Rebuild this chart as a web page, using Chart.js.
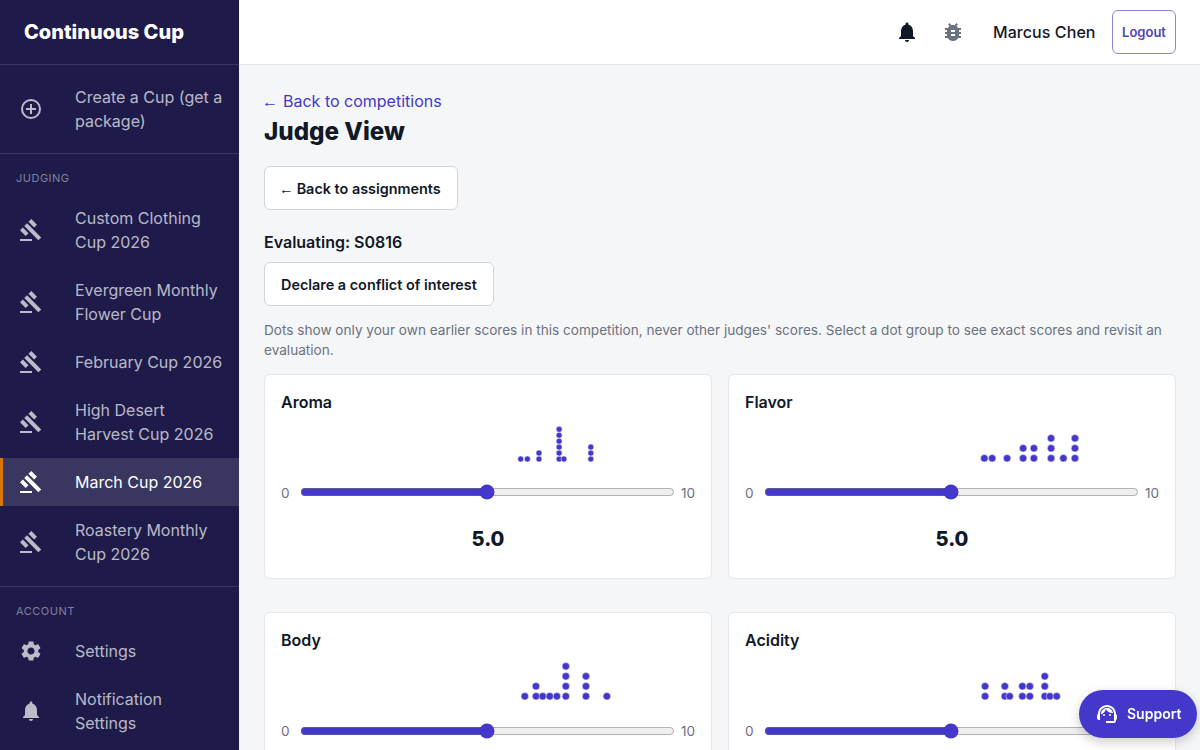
<!DOCTYPE html>
<html>
<head>
<meta charset="utf-8">
<title>Judge View</title>
<script src="https://cdn.jsdelivr.net/npm/chart.js@4"></script>
<style>
  * { box-sizing: border-box; }
  html, body { margin: 0; height: 100%; overflow: hidden; }
  body { font-family: Inter, "Noto Sans", sans-serif; background: #f5f6f8; color: #111827; width: 1200px; height: 750px; position: relative; }
  svg { display: block; fill: currentColor; }

  .sidebar { position: absolute; left: 0; top: 0; width: 239px; height: 750px; background: #1e1b4b; overflow: hidden; color: rgba(255,255,255,.7); font-size: 16px; line-height: 24px; }
  .brand { height: 65px; border-bottom: 1px solid rgba(255,255,255,.12); padding: 0 24px; font-size: 20px; font-weight: 800; color: #fff; line-height: 64px; }
  .group { padding: 8px 0; border-bottom: 1px solid rgba(255,255,255,.12); }
  .group:last-child { border-bottom: 0; }
  .label { height: 40px; padding: 17px 16px 0; font-size: 11px; line-height: 14px; letter-spacing: .5px; color: rgba(255,255,255,.45); text-transform: uppercase; margin-top: -8px; }
  .item { display: flex; align-items: center; padding: 12px 16px 12px 19px; }
  .item svg { width: 24px; height: 24px; flex: none; margin-right: 32px; }
  .item.active { background: rgba(255,255,255,.12); color: #fff; border-left: 3px solid #d97706; padding-left: 16px; }

  .topbar { position: absolute; left: 239px; right: 0; top: 0; height: 65px; background: #fff; border-bottom: 1px solid #e5e7eb; }
  .topbar svg { position: absolute; top: 20px; width: 24px; height: 24px; }
  .user { position: absolute; left: 754px; top: 20px; font-size: 16px; line-height: 24px; font-weight: 500; letter-spacing: .005em; }
  .logout { position: absolute; left: 873px; top: 10px; width: 64px; height: 44px; border: 1px solid #8f86d3; border-radius: 6px; color: #4f46b5; font-size: 13px; font-weight: 600; line-height: 42px; text-align: center; }

  .main { position: absolute; left: 264px; top: 65px; width: 912px; }
  .back { position: absolute; top: 24px; left: 0; font-size: 16px; line-height: 24px; color: #4338ca; }
  h1 { position: absolute; top: 49px; left: 0; margin: 0; font-size: 24.2px; line-height: 36px; font-weight: 800; }
  .btn { position: absolute; left: 0; height: 44px; background: #fff; border: 1px solid #d1d5db; border-radius: 6px; padding: 0 16px; font-size: 14.4px; line-height: 43px; font-weight: 600; }
  .arrow { display: inline-block; font-family: "Liberation Sans", sans-serif; font-weight: 400; margin-left: -2px; margin-right: 2px; }
  .back .arrow { width: 14.5px; }
  .btn .arrow { width: 12px; }
  .evaluating { position: absolute; top: 165px; left: 0; font-size: 16px; line-height: 24px; font-weight: 600; }
  .note { position: absolute; top: 255px; left: 0; width: 912px; font-size: 13.6px; line-height: 20px; color: #6b7280; }

  .card { position: absolute; width: 448px; height: 205px; background: #fff; border: 1px solid #e5e7eb; border-radius: 6px; }
  .card h3 { position: absolute; left: 16px; top: 15px; margin: 0; font-size: 16px; line-height: 24px; font-weight: 600; }
  .dots { position: absolute; left: 36px; top: 40px; width: 373px; height: 47px; }
  .slider { position: absolute; left: 34.5px; top: 109px; width: 375px; height: 16px; margin: 0; accent-color: #4338ca; }
  .end { position: absolute; top: 108px; font-size: 13.6px; line-height: 20px; color: #6b7280; }
  .lower .slider { top: 110px; }
  .score { position: absolute; left: 0; right: 0; top: 150px; text-align: center; font-size: 20px; line-height: 28px; font-weight: 800; }

  .support { position: absolute; left: 1079px; top: 690px; width: 118px; height: 48px; background: #4338ca; border-radius: 24px; color: #fff; font-size: 14px; font-weight: 600; line-height: 48px; padding-left: 48px; box-shadow: 0 4px 12px rgba(0,0,0,.2); }
  .support svg { position: absolute; left: 16px; top: 12px; width: 24px; height: 24px; }
</style>
</head>
<body>
<svg width="0" height="0" style="position:absolute">
  <defs>
    <symbol id="gavel" viewBox="0 0 24 24"><path d="M1 21h12v2H1v-2zM5.245 8.07l2.83-2.827 14.14 14.142-2.828 2.828L5.245 8.07zM12.317 1l5.657 5.656-2.83 2.83-5.654-5.66L12.317 1zM3.825 9.485l5.657 5.657-2.828 2.828-5.657-5.657 2.828-2.828z"/></symbol>
    <symbol id="bell" viewBox="0 0 24 24"><path d="M12 22c1.1 0 2-.9 2-2h-4c0 1.1.9 2 2 2zm6-6v-5c0-3.07-1.63-5.64-4.5-6.32V4c0-.83-.67-1.5-1.5-1.5s-1.5.67-1.5 1.5v.68C7.64 5.36 6 7.92 6 11v5l-2 2v1h16v-1l-2-2z"/></symbol>
    <symbol id="bug" viewBox="0 0 24 24"><path d="M20 8h-2.81c-.45-.78-1.07-1.45-1.82-1.96L17 4.41 15.59 3l-2.17 2.17C12.96 5.06 12.49 5 12 5c-.49 0-.96.06-1.41.17L8.41 3 7 4.41l1.62 1.63C7.88 6.55 7.26 7.22 6.81 8H4v2h2.09c-.05.33-.09.66-.09 1v1H4v2h2v1c0 .34.04.67.09 1H4v2h2.81c1.04 1.79 2.97 3 5.19 3s4.15-1.21 5.19-3H20v-2h-2.09c.05-.33.09-.66.09-1v-1h2v-2h-2v-1c0-.34-.04-.67-.09-1H20V8zm-6 8h-4v-2h4v2zm0-4h-4v-2h4v2z"/></symbol>
    <symbol id="gear" viewBox="0 0 24 24"><path d="M19.14 12.94c.04-.3.06-.61.06-.94 0-.32-.02-.64-.07-.94l2.03-1.58a.49.49 0 0 0 .12-.61l-1.92-3.32a.488.488 0 0 0-.59-.22l-2.39.96c-.5-.38-1.03-.7-1.62-.94l-.36-2.54a.484.484 0 0 0-.48-.41h-3.84c-.24 0-.43.17-.47.41l-.36 2.54c-.59.24-1.13.57-1.62.94l-2.39-.96c-.22-.08-.47 0-.59.22L2.74 8.87c-.12.21-.08.47.12.61l2.03 1.58c-.05.3-.09.63-.09.94s.02.64.07.94l-2.03 1.58a.49.49 0 0 0-.12.61l1.92 3.32c.12.22.37.29.59.22l2.39-.96c.5.38 1.03.7 1.62.94l.36 2.54c.05.24.24.41.48.41h3.84c.24 0 .44-.17.47-.41l.36-2.54c.59-.24 1.13-.56 1.62-.94l2.39.96c.22.08.47 0 .59-.22l1.92-3.32c.12-.22.07-.47-.12-.61l-2.01-1.58zM12 15.6c-1.98 0-3.6-1.62-3.6-3.6s1.62-3.6 3.6-3.6 3.6 1.62 3.6 3.6-1.62 3.6-3.6 3.6z"/></symbol>
    <symbol id="plus" viewBox="0 0 24 24"><path d="M11 7h2v4h4v2h-4v4h-2v-4H7v-2h4V7zm1-5a10 10 0 1 0 0 20 10 10 0 0 0 0-20zm0 18a8 8 0 1 1 0-16 8 8 0 0 1 0 16z"/></symbol>
    <symbol id="headset" viewBox="0 0 24 24"><path d="M21 12.2C21 6.7 16.7 3 12 3s-9 3.700-9 9.100c-.6.300-1 1-1 1.700V16c0 1.100.9 2 2 2h1v-6.100C5 8 8.100 5 12 5s7 3 7 6.900V19h-8v2h8c1.100 0 2-.9 2-2v-1.200c.6-.3 1-.9 1-1.600v-2.300c0-.7-.4-1.300-1-1.700z"/><circle cx="9" cy="13" r="1"/><circle cx="15" cy="13" r="1"/><path d="M18 11c-.5-2.900-3-5-6-5-3 0-6.300 2.500-6 6.400 2.500-1 4.400-2.800 5-5.400 1.300 2.600 4 4.400 7 4z"/></symbol>
  </defs>
</svg>

<aside class="sidebar">
  <div class="brand">Continuous Cup</div>
  <div class="group">
    <div class="item"><svg><use href="#plus"/></svg><span>Create a Cup (get a package)</span></div>
  </div>
  <div class="group">
    <div class="label" style="margin-top:-8px">Judging</div>
    <div class="item"><svg><use href="#gavel"/></svg><span>Custom Clothing Cup 2026</span></div>
    <div class="item"><svg><use href="#gavel"/></svg><span>Evergreen Monthly Flower Cup</span></div>
    <div class="item"><svg><use href="#gavel"/></svg><span>February Cup 2026</span></div>
    <div class="item"><svg><use href="#gavel"/></svg><span>High Desert Harvest Cup 2026</span></div>
    <div class="item active"><svg><use href="#gavel"/></svg><span>March Cup 2026</span></div>
    <div class="item"><svg><use href="#gavel"/></svg><span>Roastery Monthly Cup 2026</span></div>
  </div>
  <div class="group">
    <div class="label">Account</div>
    <div class="item"><svg><use href="#gear"/></svg><span>Settings</span></div>
    <div class="item"><svg><use href="#bell"/></svg><span>Notification Settings</span></div>
  </div>
</aside>

<header class="topbar">
  <svg style="left:656px;color:#111827"><use href="#bell"/></svg>
  <svg style="left:702px;color:#6b7280"><use href="#bug"/></svg>
  <div class="user">Marcus Chen</div>
  <div class="logout">Logout</div>
</header>

<main class="main">
  <div class="back"><span class="arrow">←</span> Back to competitions</div>
  <h1>Judge View</h1>
  <div class="btn" style="top:101px"><span class="arrow">←</span> Back to assignments</div>
  <div class="evaluating">Evaluating: S0816</div>
  <div class="btn" style="top:197px">Declare a conflict of interest</div>
  <div class="note">Dots show only your own earlier scores in this competition, never other judges' scores. Select a dot group to see exact scores and revisit an evaluation.</div>
</main>

<div id="cards"></div>
<div class="support"><svg><use href="#headset"/></svg>Support</div>

<script>
const criteria = ['Aroma', 'Flavor', 'Body', 'Acidity'];

// earlier scores per criterion, repeated values stack into a column
const aromaScores = [5.89, 6.07, 6.38, 6.38, 6.92, 6.92, 6.92, 6.92, 6.92, 6.92, 7.05, 7.77, 7.77, 7.77];
const flavorScores = [5.88, 6.09, 6.49, 6.92, 6.92, 7.21, 7.21, 7.67, 7.67, 7.67, 8.0, 8.31, 8.31, 8.31];
const bodyScores = [6.0, 6.3, 6.3, 6.48, 6.67, 6.86, 7.1, 7.1, 7.1, 7.1, 7.64, 7.64, 7.64, 8.2];
const acidityScores = [5.9, 5.9, 6.43, 6.43, 6.56, 6.9, 6.9, 7.1, 7.1, 7.5, 7.5, 7.5, 7.64, 7.82];

const currentScores = [5.0, 5.0, 5.0, 5.0];
const scoreTicks = [0, 10];

const allScores = [aromaScores, flavorScores, bodyScores, acidityScores];
const cardPos = [[264, 374], [728, 374], [264, 612], [728, 612]];

function stackDots(scores) {
  const seen = {};
  return scores.map(v => {
    seen[v] = (seen[v] || 0) + 1;
    return { x: v, y: seen[v] - 1 };
  });
}

function renderCard(i) {
  const lower = i > 1;
  const card = document.createElement('div');
  card.className = lower ? 'card lower' : 'card';
  card.style.left = cardPos[i][0] + 'px';
  card.style.top = cardPos[i][1] + 'px';
  // the lower row's score sits below the fold, so it is left out
  card.innerHTML = `
    <h3>${criteria[i]}</h3>
    <div class="dots"><canvas></canvas></div>
    <span class="end" style="left:16px">${scoreTicks[0]}</span>
    <input class="slider" type="range" min="0" max="10" step="0.1" value="${currentScores[i]}">
    <span class="end" style="left:416px">${scoreTicks[1]}</span>
    ${lower ? '' : `<div class="score">${currentScores[i].toFixed(1)}</div>`}
  `;
  document.getElementById('cards').appendChild(card);

  // tall stacks get smaller, tighter dots so they fit the same strip
  const dots = stackDots(allScores[i]);
  const tallest = Math.max(...dots.map(d => d.y)) + 1;
  const radius = tallest > 4 ? 3 : 3.75;
  const yMax = tallest > 4 ? 7.4 : 4.33;

  new Chart(card.querySelector('canvas'), {
    type: 'scatter',
    data: {
      datasets: [{
        data: dots,
        backgroundColor: '#4338ca',
        borderColor: '#ffffff',
        borderWidth: 0.5,
        pointRadius: radius,
        clip: false
      }]
    },
    options: {
      responsive: true,
      maintainAspectRatio: false,
      animation: false,
      layout: { autoPadding: false, padding: { bottom: radius } },
      plugins: { legend: { display: false }, tooltip: { enabled: false } },
      scales: {
        x: { type: 'linear', min: 0, max: 10, display: false },
        y: { type: 'linear', min: 0, max: yMax, display: false }
      }
    }
  });
}

criteria.forEach((c, i) => renderCard(i));
</script>
</body>
</html>
